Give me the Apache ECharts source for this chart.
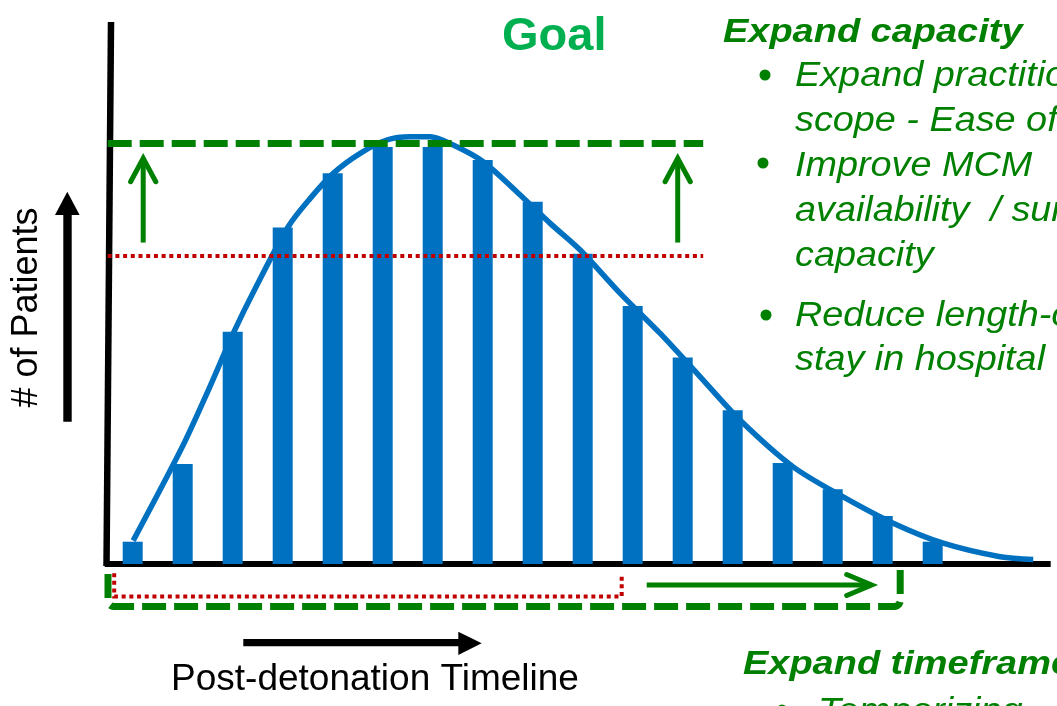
<!DOCTYPE html>
<html><head><meta charset="utf-8">
<script src="https://cdn.jsdelivr.net/npm/echarts@6/dist/echarts.min.js"></script>
<style>html,body{margin:0;padding:0;background:#fff;overflow:hidden;} #c{width:1057px;height:706px;}</style>
</head><body><div id="c"></div>
<script>
// ---- data ----
const timeSlots = [1,2,3,4,5,6,7,8,9,10,11,12,13,14,15,16,17];
const patientCounts = [5.35,24,55.7,80.7,93.7,100,100,96.9,86.9,74.4,61.9,49.5,36.9,24.2,17.9,11.5,5.35];
const curveTime = [1.01,1.98,2.48,3.01,3.45,4.11,4.55,5.01,5.55,6.08,6.55,6.95,7.41,8.01,8.68,9.35,9.95,10.75,11.55,12.35,13.15,14.21,15.21,16.21,17.21,18.35,19.01];
const curvePatients = [5.6,27.8,40.8,55.3,66.1,80.9,87.7,93.7,98.5,101.7,102.5,102.5,100.5,96.5,89.3,81.7,75.3,64.9,55.3,44.9,34.5,23.3,16.1,9.8,5.0,1.75,1.1];
const goalLevel = 100.8;
const capacityLevel = 74;
const refLineSpan = [0.5, 12.41];
const goalArrowX = [1.21, 11.9];
const goalArrowY = [77.1, 97.3];
const currentWindowX = [0.63, 10.78];
const currentWindowY = [-2.2, -7.8];
const expandedWindowX = [0.506, 16.35];
const expandedWindowY = [-2.4, -1.44, -10.2];
const timeArrowX = [11.28, 15.78];
const timeArrowY = -5.04;
const headingCapacity = 'Expand capacity';
const capacityItems = [['Expand practitioner', 'scope - Ease of'], ['Improve MCM', 'availability  / surge', 'capacity'], ['Reduce length-of', 'stay in hospital']];
const headingTime = 'Expand timeframe';
const timeItems = ['Temporizing'];

// ---- chart ----
const BLUE = '#0070C0', GREEN = '#008000', GOAL = '#00B050', RED = '#C00000';
const FONT = '"Liberation Sans", Arial, sans-serif';
const chart = echarts.init(document.getElementById('c'), null, {renderer: 'canvas'});
chart.setOption({
  animation: false,
  grid: {left: 107.7, right: 1057 - 1047.7, top: 22, bottom: 706 - 564},
  xAxis: {type: 'value', min: 0.5, max: 19.3,
    axisLine: {show: true, onZero: false, lineStyle: {color: '#000', width: 6, cap: 'square'}},
    axisTick: {show: false}, axisLabel: {show: false}, splitLine: {show: false}},
  yAxis: {type: 'value', min: 0, max: 130,
    axisLine: {show: false},
    axisTick: {show: false}, axisLabel: {show: false}, splitLine: {show: false}},
  series: [
    {type: 'bar', data: timeSlots.map((t, i) => [t, patientCounts[i]]), barWidth: 20, itemStyle: {color: BLUE}, z: 2},
    {type: 'line', data: curveTime.map((t, i) => [t, curvePatients[i]]), smooth: 0.3, symbol: 'none',
      lineStyle: {color: BLUE, width: 5.5}, z: 3,
      markLine: {silent: true, symbol: ['none', 'none'], label: {show: false}, z: 5,
        emphasis: {disabled: true},
        data: [
          [{coord: [refLineSpan[0], goalLevel], lineStyle: {color: GREEN, width: 7, type: [24, 8]}}, {coord: [refLineSpan[1], goalLevel]}],
          [{coord: [refLineSpan[0], capacityLevel], lineStyle: {color: RED, width: 4, type: [4, 3.7]}}, {coord: [refLineSpan[1], capacityLevel]}]
        ]}}
  ]
});

const P = (x, y) => chart.convertToPixel({gridIndex: 0}, [x, y]);
const g = [];
// slightly slanted hand-drawn vertical axis (drawn beneath the reference lines)
g.push({type: 'line', z: 1, shape: {x1: 111, y1: 22, x2: 106.5, y2: 566}, style: {stroke: '#000', lineWidth: 6.5}});
// green up arrows
goalArrowX.forEach(x => {
  const b = P(x, goalArrowY[0]), t = P(x, goalArrowY[1]);
  g.push({type: 'line', z: 100, shape: {x1: b[0], y1: b[1], x2: t[0], y2: t[1] + 2}, style: {stroke: GREEN, lineWidth: 5}});
  g.push({type: 'polyline', z: 100, shape: {points: [[t[0] - 12.6, t[1] + 23.4], [t[0], t[1]], [t[0] + 12.6, t[1] + 23.4]]},
    style: {stroke: GREEN, lineWidth: 5, lineCap: 'round', lineJoin: 'miter', fill: null}});
});
// red dotted current window bracket
{
  const a = P(currentWindowX[0], currentWindowY[0]), b = P(currentWindowX[0], currentWindowY[1]);
  const c = P(currentWindowX[1], currentWindowY[1]), d = P(currentWindowX[1], currentWindowY[0]);
  g.push({type: 'polyline', z: 90, shape: {points: [a, b, c, d]}, style: {stroke: RED, lineWidth: 4, lineDash: [4, 3.7], fill: null}});
}
// green dashed expanded window bracket (rounded corners)
{
  const a = P(expandedWindowX[0], expandedWindowY[0]);
  const bl = P(expandedWindowX[0], expandedWindowY[2]);
  const br = P(expandedWindowX[1], expandedWindowY[2]);
  const d = P(expandedWindowX[1], expandedWindowY[1]);
  const r = 6, pts = [a];
  for (let k = 0; k <= 6; k++) { const an = Math.PI / 2 * k / 6; pts.push([bl[0] + r - r * Math.cos(an), bl[1] - r + r * Math.sin(an)]); }
  for (let k = 0; k <= 6; k++) { const an = Math.PI / 2 * k / 6; pts.push([br[0] - r + r * Math.sin(an), br[1] - r + r * Math.cos(an)]); }
  pts.push(d);
  g.push({type: 'polyline', z: 90, shape: {points: pts}, style: {stroke: GREEN, lineWidth: 7, lineDash: [24, 8], lineJoin: 'round', fill: null}});
}
// green timeline arrow
{
  const s = P(timeArrowX[0], timeArrowY), t = P(timeArrowX[1], timeArrowY);
  g.push({type: 'line', z: 100, shape: {x1: s[0], y1: s[1], x2: t[0] - 2, y2: t[1]}, style: {stroke: GREEN, lineWidth: 5}});
  g.push({type: 'polyline', z: 100, shape: {points: [[t[0] - 25, t[1] - 10.5], [t[0], t[1]], [t[0] - 25, t[1] + 10.5]]},
    style: {stroke: GREEN, lineWidth: 5, lineCap: 'round', lineJoin: 'miter', fill: null}});
}
// black axis-name arrows
g.push({type: 'rect', z: 100, shape: {x: 243.3, y: 639, width: 216, height: 7.3}, style: {fill: '#000'}});
g.push({type: 'polygon', z: 100, shape: {points: [[458.3, 631.7], [481.7, 643.3], [458.3, 655]]}, style: {fill: '#000'}});
g.push({type: 'rect', z: 100, shape: {x: 63.3, y: 214, width: 8.4, height: 207.7}, style: {fill: '#000'}});
g.push({type: 'polygon', z: 100, shape: {points: [[55, 215], [67.3, 191.7], [79.6, 215]]}, style: {fill: '#000'}});

// texts
function txt(text, x, baseline, size, font, color, scaleX, align) {
  g.push({type: 'text', z: 110, x: x, y: baseline, scaleX: scaleX || 1, originX: 0, originY: 0,
    style: {text: text, x: 0, y: -0.31 * size, font: font + ' ' + size + 'px ' + FONT, fill: color,
      textAlign: align || 'left', textVerticalAlign: 'middle'}});
}
txt('Goal', 502, 52, 47, 'bold', GOAL, 1);
txt(headingCapacity, 723, 43, 33, 'italic bold', GREEN, 1.15);
const lineBaselines = [[87, 132], [177, 222, 267], [327, 371]];
const bulletCenters = [[765, 75], [763, 163], [766, 315]];
capacityItems.forEach((item, i) => {
  g.push({type: 'circle', z: 110, shape: {cx: bulletCenters[i][0], cy: bulletCenters[i][1], r: 5.5}, style: {fill: GREEN}});
  item.forEach((line, j) => txt(line, 795, lineBaselines[i][j], 35, 'italic', GREEN, 1.08));
});
txt(headingTime, 743, 675, 33, 'italic bold', GREEN, 1.15);
g.push({type: 'circle', z: 110, shape: {cx: 782, cy: 710, r: 5.5}, style: {fill: GREEN}});
txt(timeItems[0], 818, 723, 35, 'italic', GREEN, 1.08);
txt('Post-detonation Timeline', 375, 691.7, 37, 'normal', '#000', 1, 'center');
g.push({type: 'text', z: 110, x: 27.5, y: 307.5, rotation: Math.PI / 2,
  style: {text: '# of Patients', x: 0, y: 0, font: 'normal 36px ' + FONT, fill: '#000', textAlign: 'center', textVerticalAlign: 'middle'}});

chart.setOption({graphic: {elements: g}});
</script>
</body></html>
